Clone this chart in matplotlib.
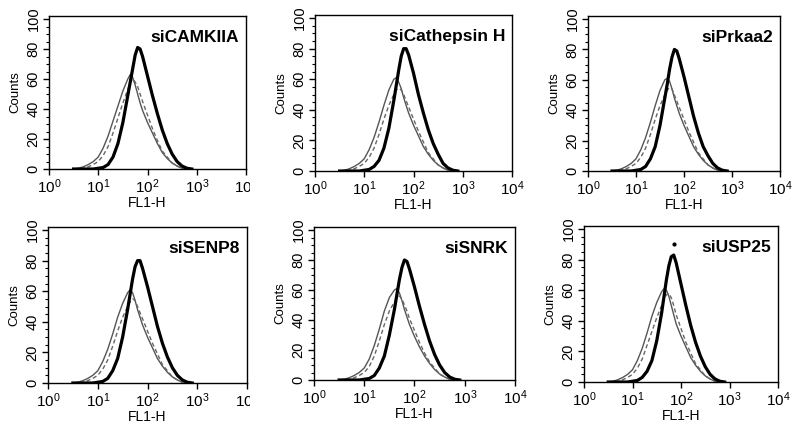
import matplotlib
matplotlib.use("Agg")
import matplotlib.pyplot as plt
from matplotlib.ticker import MultipleLocator, LogLocator, NullFormatter
from matplotlib.transforms import Bbox, TransformedBbox

plt.rcParams['font.family'] = ['Liberation Sans', 'DejaVu Sans']

# log10(FL1-H) channel positions shared by all histograms
log_fl1 = [0.5, 0.6, 0.7, 0.8, 0.9, 1.0, 1.1, 1.2, 1.3, 1.4, 1.5, 1.6, 1.65,
           1.7, 1.75, 1.8, 1.85, 1.9, 2.0, 2.1, 2.2, 2.3, 2.4, 2.5, 2.6, 2.7, 2.8, 2.9]

titles = ["siCAMKIIA", "siCathepsin H", "siPrkaa2", "siSENP8", "siSNRK", "siUSP25"]

# thick black curve (siRNA)
thick = [
    [0, 0, 0, 0, 0, 0.5, 1, 3, 8, 17, 31, 49, 58, 67, 76, 81, 80, 75, 62, 49, 37, 26, 17, 10, 5, 2, 0.5, 0],
    [0, 0, 0, 0, 0, 0.5, 1, 3, 7, 15, 28, 46, 56, 66, 75, 80, 80, 76, 64, 50, 38, 27, 18, 11, 5, 2, 0.5, 0],
    [0, 0, 0, 0, 0, 0.5, 1, 3, 8, 16, 30, 48, 57, 67, 75, 80, 79, 74, 62, 49, 36, 25, 16, 10, 5, 2, 0.5, 0],
    [0, 0, 0, 0, 0, 0.5, 1, 3, 8, 16, 30, 48, 58, 68, 76, 80, 80, 75, 63, 50, 37, 26, 17, 10, 5, 2, 0.5, 0],
    [0, 0, 0, 0, 0, 0.5, 1, 3, 8, 16, 30, 47, 57, 67, 75, 80, 79, 74, 62, 49, 37, 26, 17, 10, 5, 2, 0.5, 0],
    [0, 0, 0, 0, 0, 0.5, 1, 3, 7, 14, 27, 45, 56, 67, 76, 82, 83, 78, 64, 50, 37, 26, 17, 10, 5, 2, 0.5, 0],
]

# thin solid curve (control)
thin = [
    [0, 0.5, 1.5, 3, 5, 8, 14, 22, 32, 42, 52, 60, 63, 61, 56, 50, 44, 39, 31, 24, 17, 11, 7, 4, 2, 0.5, 0, 0],
    [0, 0.5, 1.5, 3, 5, 8, 14, 22, 32, 43, 53, 60, 61, 58, 54, 48, 43, 38, 30, 23, 16, 11, 7, 4, 2, 0.5, 0, 0],
    [0, 0.5, 1.5, 3, 5, 8, 14, 22, 32, 43, 53, 60, 61, 59, 54, 48, 43, 38, 30, 23, 16, 11, 7, 4, 2, 0.5, 0, 0],
    [0, 0.5, 1.5, 3, 5, 8, 14, 22, 32, 43, 52, 59, 61, 59, 54, 48, 43, 38, 30, 23, 16, 11, 7, 4, 2, 0.5, 0, 0],
    [0, 0.5, 1.5, 3, 5, 8, 14, 23, 34, 46, 55, 60, 61, 58, 53, 47, 42, 37, 29, 22, 16, 11, 7, 4, 2, 0.5, 0, 0],
    [0, 0.5, 1.5, 3, 5, 8, 14, 22, 32, 43, 52, 59, 61, 60, 56, 50, 44, 38, 30, 23, 16, 11, 7, 4, 2, 0.5, 0, 0],
]

# dashed curve (second control)
dashed = [
    [0, 0, 0.5, 1.5, 3, 5, 9, 15, 24, 34, 44, 53, 58, 60, 58, 55, 50, 45, 36, 27, 19, 12, 8, 4, 2, 0.5, 0, 0],
    [0, 0, 0.5, 1.5, 3, 5, 9, 15, 24, 34, 43, 50, 53, 54, 53, 50, 46, 42, 34, 26, 19, 12, 8, 4, 2, 0.5, 0, 0],
    [0, 0, 0.5, 1.5, 3, 5, 9, 15, 24, 34, 43, 50, 53, 55, 54, 50, 46, 42, 34, 26, 19, 12, 8, 4, 2, 0.5, 0, 0],
    [0, 0, 0.5, 1.5, 3, 5, 9, 15, 24, 34, 43, 50, 53, 55, 54, 50, 46, 42, 34, 26, 19, 12, 8, 4, 2, 0.5, 0, 0],
    [0, 0, 0.5, 1.5, 3, 5, 9, 16, 26, 37, 46, 52, 55, 56, 54, 50, 46, 41, 33, 25, 18, 12, 8, 4, 2, 0.5, 0, 0],
    [0, 0, 0.5, 1.5, 3, 5, 9, 15, 24, 33, 42, 50, 54, 57, 58, 55, 50, 44, 35, 26, 19, 12, 8, 4, 2, 0.5, 0, 0],
]

# stray event above the siUSP25 peak
usp25_dot = (1.86, 90)

# axes boxes in pixels: left, top, right, bottom  (image is 797 x 424)
boxes = [
    (49, 16, 246, 169), (315, 15, 512, 171), (588, 16, 780, 171),
    (48, 227, 247, 383), (314, 227, 515, 380), (584, 226, 778, 382),
]
# right edge of each picture tile (labels are cut there)
tile_right = [250, 540, 797, 250, 540, 797]

W, H = 797, 424
fig = plt.figure(figsize=(W / 100, H / 100), dpi=100)

for i, (l, t, r, b) in enumerate(boxes):
    ax = fig.add_axes([l / W, 1 - b / H, (r - l) / W, (b - t) / H])
    xs = [10 ** v for v in log_fl1]
    ax.plot(xs, thin[i], color='#555555', lw=1.0)
    ax.plot(xs, dashed[i], color='#666666', lw=1.0, ls=(0, (3, 2)))
    ax.plot(xs, thick[i], color='black', lw=2.3)
    if i == 5:
        ax.plot(10 ** usp25_dot[0], usp25_dot[1], 'o', color='black', ms=2)

    ax.set_xscale('log')
    ax.set_xlim(1, 1e4)
    ax.set_ylim(0, 102)
    ax.set_xticks([1, 10, 100, 1000, 10000])
    ax.xaxis.set_minor_locator(LogLocator(base=10, subs=range(2, 10)))
    ax.xaxis.set_minor_formatter(NullFormatter())
    ax.set_yticks([0, 20, 40, 60, 80, 100])
    ax.yaxis.set_minor_locator(MultipleLocator(5))
    ax.tick_params(which='major', direction='out', length=4, width=1, labelsize=11, pad=2)
    ax.tick_params(which='minor', direction='out', length=2, width=0.8)
    for lab in ax.get_yticklabels():
        lab.set_rotation(90)
        lab.set_va('center')
        lab.set_fontsize(10.5)
    for s in ax.spines.values():
        s.set_linewidth(1)

    ax.set_xlabel("FL1-H", fontsize=10, labelpad=0)
    ax.set_ylabel("Counts", fontsize=9.5, labelpad=4,
                  family=['Liberation Sans Narrow', 'Liberation Sans', 'DejaVu Sans'])
    ax.text(0.965, 0.91, titles[i], transform=ax.transAxes, ha='right', va='top',
            fontsize=12.5, fontweight='bold')

    clip = TransformedBbox(Bbox([[0, 0], [tile_right[i] / W, 1]]), fig.transFigure)
    for lab in ax.get_xticklabels():
        lab.set_clip_box(clip)
        lab.set_clip_on(True)

fig.savefig("out.png", dpi=100)
